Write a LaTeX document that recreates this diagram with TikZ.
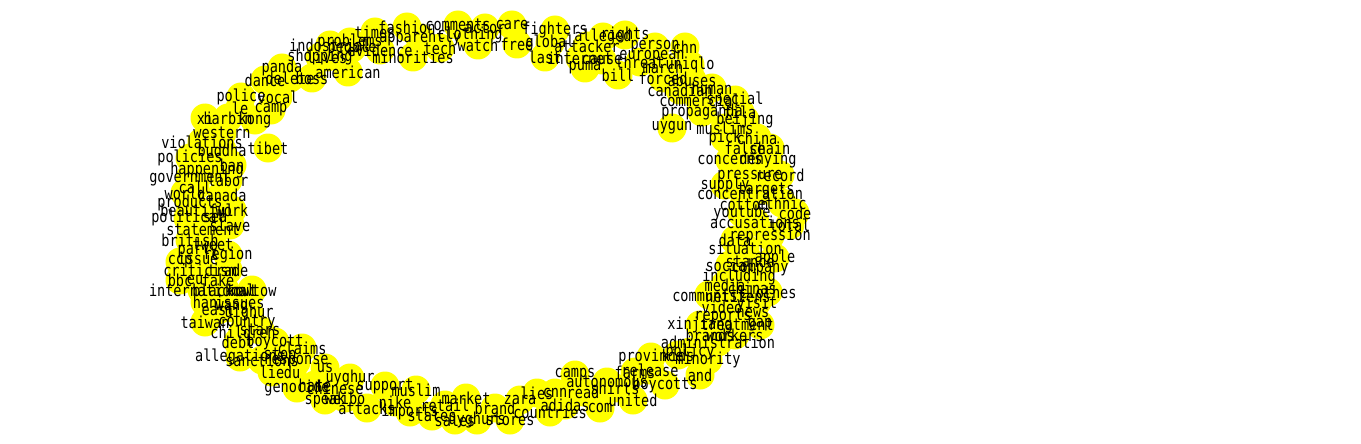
\documentclass[tikz,border=0pt]{standalone}
\usepackage{fontspec}
\newfontfamily\lblfont{DejaVu Sans Mono}[FakeStretch=0.82]
\definecolor{nodeyellow}{HTML}{FFFF00}
\tikzset{
  dot/.style={circle, fill=nodeyellow, draw=none, minimum size=29pt, inner sep=0pt},
  lbl/.style={font=\lblfont\fontsize{16.5}{16.5}\selectfont, text=black, inner sep=0pt}
}
\def\nodelist{330/45/indostrial, 320/57/shopping, 327/57/lives, 413/57/minorities, 348/72/american, 312/78/boss,
282/68/panda, 265/80/dance, 290/78/delete, 241/97/police, 278/97/vocal, 240/108/le, 271/110/camp,
205/118/xi, 228/118/harbin, 255/120/kong, 222/133/western, 202/142/violations, 222/150/buddha, 268/148/tibet,
190/158/policies, 207/170/happening, 190/178/government, 195/187/call, 185/193/world, 222/195/canada,
190/203/products, 197/210/beautiful, 188/218/political, 203/230/statement, 190/240/british, 213/245/tweet,
198/250/party, 198/258/issue, 200/270/criticism, 195/280/eu, 218/280/fake, 202/290/international,
225/290/blackout, 252/290/kowtow, 205/302/han, 240/302/issues, 218/310/east, 249/313/uighur,
205/322/taiwan, 247/322/country, 243/332/children, 238/342/debt, 275/342/boycott, 302/348/claims,
240/357/allegations, 262/360/sanctions, 296/362/response, 272/372/lie, 292/372/du, 325/368/us,
350/378/uyghur, 297/388/genocide, 335/388/chinese, 385/386/support, 416/390/muslim, 325/400/speak,
367/408/attacks, 466/398/market, 432/416/states, 477/420/uyghurs, 550/412/countries, 537/393/lies,
555/393/cnn, 583/392/read, 600/408/com, 633/400/united, 575/375/camps, 607/382/autonomous,
651/357/province, 678/355/kids, 708/360/minority, 650/370/release, 700/375/and, 665/385/boycotts,
718/342/administration, 710/335/brands, 700/325/xinjiang, 737/325/treatment, 723/316/reports,
722/307/video, 753/313/news, 757/302/visit, 709/295/communist, 738/296/netizens, 752/288/chinas,
739/277/including, 760/270/company, 750/262/stance, 745/248/situation, 770/236/repression,
755/222/accusations, 742/213/youtube, 744/205/cotton, 782/203/ethnic, 750/193/concentration,
766/190/targets, 750/177/pressure, 780/175/record, 730/160/concerns, 768/160/denying, 745/148/false,
725/138/pick, 757/138/china, 672/128/uygun, 725/128/muslims, 702/112/propaganda, 700/100/commercial,
735/100/special, 680/90/canadian, 712/88/human, 692/80/abuses, 663/78/forced, 618/75/bill,
663/67/march, 652/57/european, 602/60/cause, 545/57/last, 580/58/internet, 655/47/person,
685/47/chn, 603/37/alleged, 587/46/attacker, 550/43/global, 517/44/free, 478/45/watch,
555/30/fighters, 512/25/care, 458/25/comments, 407/27/fashion, 375/32/times, 350/42/problems,
420/38/apparently, 470/35/clothing, 352/48/people,
232/165/ban, 228/180/labor, 232/210/work, 230/225/slave, 215/218/sea, 228/255/region, 180/262/ccp,
228/270/trade, 180/280/bbc, 232/308/wang, 260/330/stars, 280/355/stop, 315/385/hate, 345/398/weibo,
395/402/nike, 410/412/imports, 445/405/retail, 455/420/sales, 495/408/brand, 510/420/stores,
520/400/zara, 565/405/adidas, 615/388/shirts, 635/372/farms, 690/352/policy, 735/335/workers,
760/325/gap, 768/292/clothes, 725/285/media, 730/265/social, 775/258/apple, 735/240/data,
790/225/total, 795/213/code, 725/185/supply, 770/148/chain, 745/120/beijing, 625/35/rights,
640/62/threat, 690/65/uniqlo, 585/68/puma, 740/112/fila, 485/28/actor, 440/48/tech, 380/50/evidence}
\begin{document}
\begin{tikzpicture}[x=1pt,y=-1pt]
\useasboundingbox[fill=white] (0,0) rectangle (1361,444);
\foreach \x/\y/\w [count=\i] in \nodelist { \node[dot] (c\i) at (\x,\y) {}; }
\foreach \x/\y/\w [count=\i] in \nodelist { \node[lbl] (n\i) at (c\i) {\w}; }
\end{tikzpicture}
\end{document}
